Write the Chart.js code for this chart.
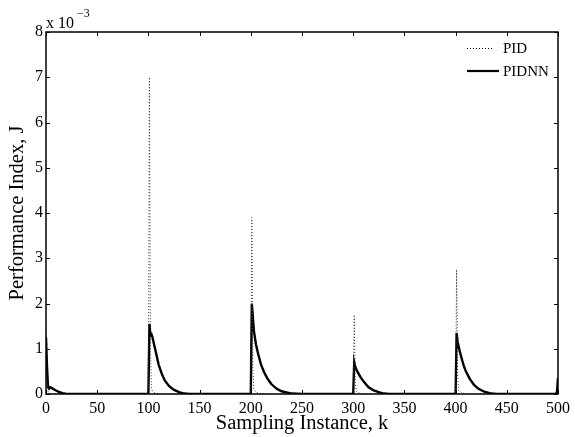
<!DOCTYPE html>
<html lang="en">
<head>
    <meta charset="UTF-8">
    <title>Performance Index</title>
    <script src="https://cdn.jsdelivr.net/npm/chart.js"></script>
    <style>
        body {
            margin: 0;
            padding: 0;
            background-color: white;
        }

        .chart-container {
            width: 575px;
            height: 437px;
        }
    </style>
</head>
<body>
    <div class="chart-container">
        <canvas id="chart" width="575" height="437"></canvas>
    </div>

    <script>
        // values in units of 1e-3
        const pidK = [0, 1, 2, 3, 5, 100, 101, 102, 103, 104, 106, 110, 200, 201, 202, 203, 205, 210,
            300, 301, 302, 303, 306, 310, 400, 401, 402, 403, 406, 410, 500];
        const pidJ = [1.6, 0.3, 0.06, 0.03, 0, 0, 7.0, 1.0, 0.12, 0.06, 0.03, 0, 0, 3.9, 0.5, 0.1, 0.04, 0,
            0, 1.75, 0.25, 0.06, 0.02, 0, 0, 2.75, 0.4, 0.08, 0.03, 0, 0];

        const pidnnK = [0, 1, 2, 3, 4, 5, 8, 12, 16, 20,
            100, 101, 102, 103, 104, 106, 108, 110, 113, 116, 120, 125, 130, 135, 140,
            200, 201, 202, 203, 205, 207, 210, 213, 216, 220, 225, 230, 240, 250,
            300, 301, 302, 304, 307, 310, 315, 320, 325, 330, 335,
            400, 401, 402, 404, 406, 408, 410, 414, 418, 422, 428, 435, 440,
            498, 499, 500];
        const pidnnJ = [1.25, 0.6, 0.15, 0.12, 0.15, 0.14, 0.1, 0.05, 0.02, 0,
            0, 1.55, 1.3, 1.32, 1.25, 1.05, 0.85, 0.65, 0.45, 0.3, 0.18, 0.09, 0.04, 0.01, 0,
            0, 2.0, 1.7, 1.4, 1.1, 0.9, 0.65, 0.48, 0.35, 0.22, 0.12, 0.06, 0.01, 0,
            0, 0.7, 0.6, 0.5, 0.38, 0.28, 0.15, 0.08, 0.04, 0.01, 0,
            0, 1.35, 1.15, 0.95, 0.78, 0.62, 0.5, 0.33, 0.2, 0.12, 0.05, 0.01, 0,
            0, 0.05, 0.35];

        const xTicks = [0, 50, 100, 150, 200, 250, 300, 350, 400, 450, 500];
        const yTicks = [0, 1, 2, 3, 4, 5, 6, 7, 8];

        const serif = '"Liberation Serif", "Times New Roman", serif';

        function toPoints(ks, vals) {
            return ks.map((k, i) => ({ x: k, y: vals[i] }));
        }

        // box, inward ticks, axis titles, exponent and legend (MATLAB style)
        const matlabFrame = {
            id: 'matlabFrame',
            afterDraw(chart) {
                const ctx = chart.ctx;
                const a = chart.chartArea;
                const xs = chart.scales.x;
                const ys = chart.scales.y;
                const tl = 4;
                ctx.save();
                ctx.strokeStyle = '#000';
                ctx.lineWidth = 1;
                ctx.beginPath();
                xTicks.forEach(t => {
                    const px = Math.round(xs.getPixelForValue(t)) + 0.5;
                    ctx.moveTo(px, a.bottom);
                    ctx.lineTo(px, a.bottom - tl);
                    ctx.moveTo(px, a.top);
                    ctx.lineTo(px, a.top + tl);
                });
                yTicks.forEach(t => {
                    const py = Math.round(ys.getPixelForValue(t)) + 0.5;
                    ctx.moveTo(a.left, py);
                    ctx.lineTo(a.left + tl, py);
                    ctx.moveTo(a.right, py);
                    ctx.lineTo(a.right - tl, py);
                });
                ctx.stroke();
                ctx.lineWidth = 1.5;
                ctx.strokeRect(a.left, a.top, a.right - a.left, a.bottom - a.top);

                ctx.fillStyle = '#000';
                // exponent label
                ctx.font = '16px ' + serif;
                ctx.textAlign = 'left';
                ctx.textBaseline = 'alphabetic';
                ctx.fillText('x 10', 46, 28);
                ctx.font = '12px ' + serif;
                ctx.fillText('\u22123', 77, 17);

                // axis titles
                ctx.font = '20.5px ' + serif;
                ctx.textAlign = 'center';
                ctx.textBaseline = 'middle';
                ctx.fillText('Sampling Instance, k', (a.left + a.right) / 2, 424);
                ctx.save();
                ctx.translate(18, (a.top + a.bottom) / 2);
                ctx.rotate(-Math.PI / 2);
                ctx.fillText('Performance Index, J', 0, 0);
                ctx.restore();

                // legend
                ctx.font = '15px ' + serif;
                ctx.textAlign = 'left';
                ctx.textBaseline = 'middle';
                ctx.lineWidth = 1;
                ctx.setLineDash([1, 2]);
                ctx.beginPath();
                ctx.moveTo(467, 48.5);
                ctx.lineTo(494, 48.5);
                ctx.stroke();
                ctx.setLineDash([]);
                ctx.lineWidth = 2.2;
                ctx.beginPath();
                ctx.moveTo(467, 71);
                ctx.lineTo(499, 71);
                ctx.stroke();
                ctx.fillText('PID', 503, 49);
                ctx.fillText('PIDNN', 503, 72);
                ctx.restore();
            }
        };

        new Chart(document.getElementById('chart'), {
            type: 'line',
            data: {
                datasets: [{
                    label: 'PID',
                    data: toPoints(pidK, pidJ),
                    borderColor: '#333',
                    borderWidth: 1,
                    borderDash: [1, 2],
                    pointRadius: 0,
                    tension: 0,
                    fill: false
                }, {
                    label: 'PIDNN',
                    data: toPoints(pidnnK, pidnnJ),
                    borderColor: '#000',
                    borderWidth: 2.4,
                    pointRadius: 0,
                    tension: 0,
                    fill: false
                }]
            },
            options: {
                responsive: false,
                animation: false,
                layout: {
                    padding: { left: 0, right: 13, top: 32, bottom: 0 }
                },
                plugins: {
                    legend: { display: false },
                    tooltip: { enabled: false }
                },
                scales: {
                    x: {
                        type: 'linear',
                        min: 0,
                        max: 500,
                        afterBuildTicks: s => { s.ticks = xTicks.map(v => ({ value: v })); },
                        afterFit: s => { s.height = 43; },
                        grid: { display: false, drawTicks: false },
                        border: { display: false },
                        ticks: {
                            color: '#000',
                            padding: 5,
                            maxRotation: 0,
                            autoSkip: false,
                            font: { family: serif, size: 16 }
                        }
                    },
                    y: {
                        min: 0,
                        max: 8,
                        afterBuildTicks: s => { s.ticks = yTicks.map(v => ({ value: v })); },
                        afterFit: s => { s.width = 46; },
                        grid: { display: false, drawTicks: false },
                        border: { display: false },
                        ticks: {
                            color: '#000',
                            padding: 3,
                            font: { family: serif, size: 16 }
                        }
                    }
                }
            },
            plugins: [matlabFrame]
        });
    </script>
</body>
</html>
